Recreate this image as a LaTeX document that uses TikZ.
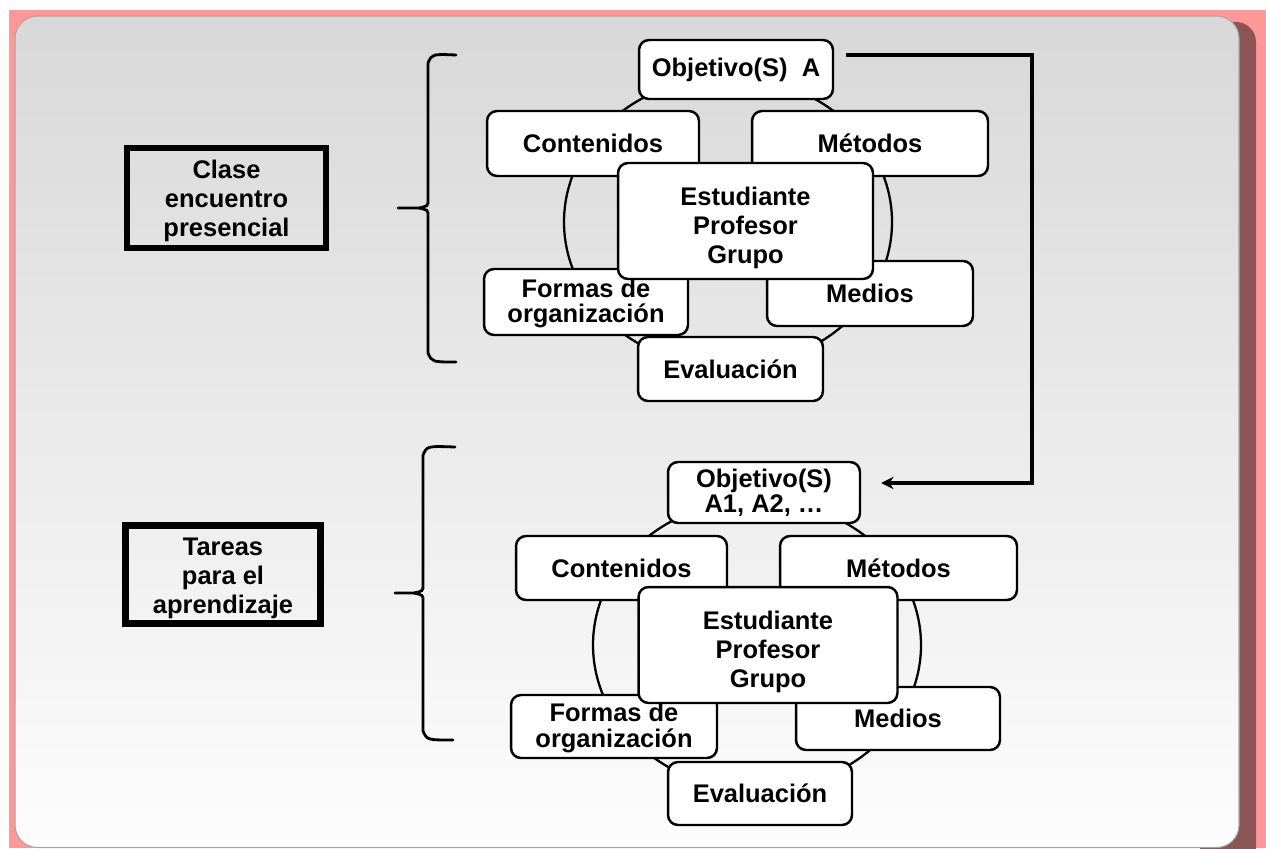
\documentclass[tikz,border=0pt]{standalone}
\usepackage{fontspec}
\setmainfont{Liberation Sans}
\usetikzlibrary{arrows.meta}

\definecolor{rosa}{RGB}{255,153,153}
\definecolor{sombra}{RGB}{139,85,85}
\definecolor{panelarriba}{RGB}{216,216,216}
\definecolor{panelabajo}{RGB}{253,253,253}

\tikzset{
  caja/.style={draw=black, line width=1.4pt, fill=white, rounded corners=0.2cm,
    inner sep=0pt, align=center, font=\fontsize{14.5}{14.5}\selectfont\bfseries},
  centro/.style={caja, font=\fontsize{14.5}{16.5}\selectfont\bfseries},
  tema/.style={draw=black, line width=0.13cm, inner sep=0pt, align=center,
    font=\fontsize{14.5}{16.5}\selectfont\bfseries},
  anillo/.style={line width=1.3pt},
  llave/.style={line width=1.6pt, line cap=round},
  flecha/.style={line width=2.2pt, -{Stealth[length=7pt,width=7pt]}}
}

\begin{document}
\begin{tikzpicture}[x=0.02cm, y=-0.02cm]
  \useasboundingbox (0,0) rectangle (1266,848);
  \clip (0,0) rectangle (1266,848);
  % fondo
  \fill[white] (0,0) rectangle (1266,848);
  \fill[rosa] (9,10) rectangle (1266,848);
  \fill[sombra, rounded corners=0.4cm] (1200,22) rectangle (1256,890);
  \shade[top color=panelarriba, bottom color=panelabajo, draw=gray!70, line width=0.6pt,
    rounded corners=0.45cm] (15,16) rectangle (1239,847.5);

  % temas
  \node[tema, minimum width=3.98cm, minimum height=2cm] (clase) at (226.5,198)
    {\rule{0pt}{14pt}Clase\\encuentro\\presencial};
  \node[tema, minimum width=3.9cm, minimum height=1.96cm] (tareas) at (223,574.5)
    {\rule{0pt}{14pt}Tareas\\para el\\aprendizaje};

  % llaves
  \draw[llave] (456,55) .. controls (432,54) .. (428,63) -- (428,200)
    .. controls (428,206) .. (419,208) -- (398,208);
  \draw[llave] (419,208) .. controls (428,210) .. (428,216) -- (428,353)
    .. controls (432,362) .. (456,362);
  \draw[llave] (455,447) .. controls (427,446) .. (423,455) -- (423,585)
    .. controls (423,591) .. (414,593) -- (395,593);
  \draw[llave] (414,593) .. controls (423,595) .. (423,601) -- (423,731)
    .. controls (427,740) .. (453,740);

  % ciclo de la clase
  \draw[anillo] (728,222) ellipse [x radius=164, y radius=145];
  \node[caja, minimum width=3.88cm, minimum height=1.18cm] (objA) at (736,69.5) {Objetivo(S)\ \ A};
  \node[caja, minimum width=4.24cm, minimum height=1.3cm] (contA) at (593,143.5) {Contenidos};
  \node[caja, minimum width=4.72cm, minimum height=1.3cm] (metA) at (870,143.5) {Métodos};
  \node[caja, minimum width=4.08cm, minimum height=1.32cm] (formA) at (586,302) {\rule{0pt}{12pt}Formas de\\organización};
  \node[caja, minimum width=4.12cm, minimum height=1.3cm] (medA) at (870,293.5) {Medios};
  \node[caja, minimum width=3.7cm, minimum height=1.28cm] (evalA) at (730.5,369) {Evaluación};
  \node[centro, minimum width=5.1cm, minimum height=2.32cm] (sujA) at (745.5,221)
    {\rule{0pt}{18pt}Estudiante\\Profesor\\Grupo};

  % ciclo de las tareas
  \draw[anillo] (757,645) ellipse [x radius=164, y radius=145];
  \node[caja, minimum width=3.84cm, minimum height=1.22cm] (objB) at (764,492.5) {Objetivo(S)\\A1, A2, …};
  \node[caja, minimum width=4.22cm, minimum height=1.28cm] (contB) at (621.5,568) {Contenidos};
  \node[caja, minimum width=4.74cm, minimum height=1.28cm] (metB) at (898.5,568) {Métodos};
  \node[caja, minimum width=4.12cm, minimum height=1.26cm] (formB) at (614,726.5) {\rule{0pt}{12pt}Formas de\\organización};
  \node[caja, minimum width=4.08cm, minimum height=1.26cm] (medB) at (898,718.5) {Medios};
  \node[caja, minimum width=3.68cm, minimum height=1.26cm] (evalB) at (760,793.5) {Evaluación};
  \node[centro, minimum width=5.18cm, minimum height=2.32cm] (sujB) at (768,645)
    {\rule{0pt}{18pt}Estudiante\\Profesor\\Grupo};

  % retorno
  \coordinate (retorno) at (1032,483);
  \draw[flecha] ([xshift=0.24cm,yshift=0.29cm]objA.east) -| (retorno)
    -- ([xshift=0.4cm,yshift=0.19cm]objB.east);
\end{tikzpicture}
\end{document}
